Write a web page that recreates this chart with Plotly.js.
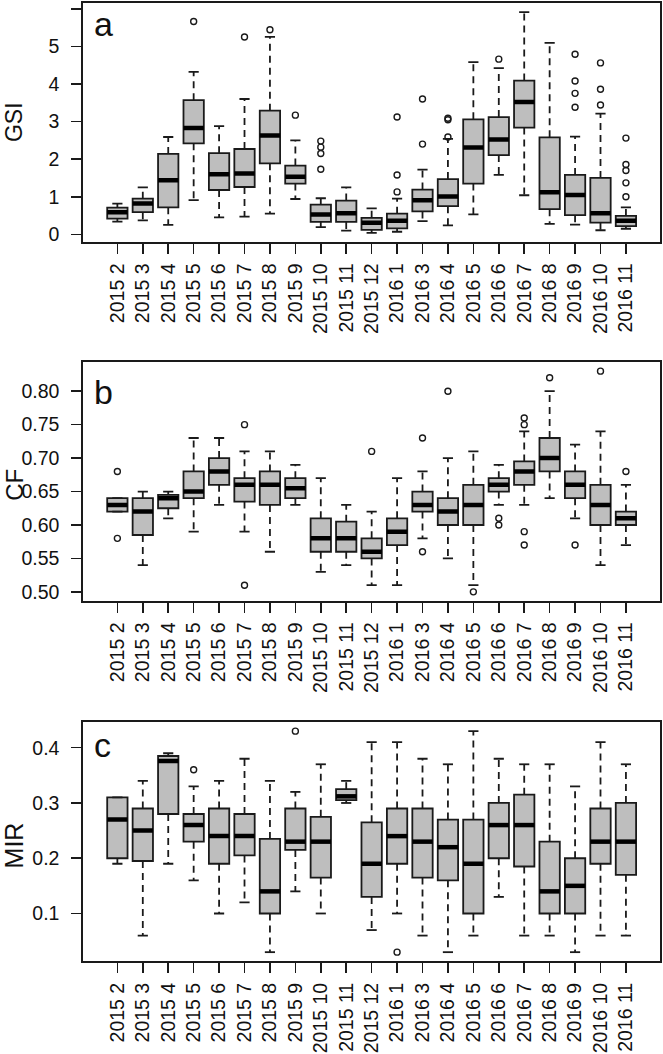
<!DOCTYPE html>
<html>
<head>
<meta charset="utf-8">
<script src="https://cdn.plot.ly/plotly-3.0.1.min.js"></script>
<style>html,body{margin:0;padding:0;background:#fff;}#chart{width:663px;height:1054px;}</style>
</head>
<body>
<div id="chart"></div>
<script>
// ---- categories (sampling months) ----
const months = ["2015 2","2015 3","2015 4","2015 5","2015 6","2015 7","2015 8","2015 9","2015 10","2015 11","2015 12",
                "2016 1","2016 3","2016 4","2016 5","2016 6","2016 7","2016 8","2016 9","2016 10","2016 11"];

// ---- panel a: GSI ----
const gsiLow = [0.34,0.37,0.25,0.91,0.45,0.47,0.55,0.94,0.19,0.10,0.04,0.07,0.35,0.24,0.53,1.58,1.04,0.28,0.26,0.11,0.15];
const gsiQ1  = [0.42,0.59,0.72,2.42,1.18,1.26,1.89,1.35,0.33,0.33,0.12,0.16,0.61,0.75,1.35,2.11,2.84,0.67,0.51,0.31,0.22];
const gsiMed = [0.59,0.82,1.44,2.83,1.60,1.62,2.63,1.53,0.53,0.56,0.31,0.36,0.91,1.01,2.31,2.52,3.52,1.12,1.05,0.56,0.36];
const gsiQ3  = [0.71,0.95,2.14,3.57,2.16,2.27,3.29,1.83,0.79,0.90,0.44,0.55,1.19,1.47,3.06,3.12,4.09,2.58,1.58,1.50,0.49];
const gsiHigh= [0.82,1.25,2.59,4.32,2.88,3.60,5.25,2.50,0.96,1.25,0.69,0.95,1.72,2.54,4.58,4.42,5.91,5.09,2.60,3.21,0.72];
const gsiOutMonth = ["2015 5","2015 7","2015 8","2015 9","2015 10","2015 10","2015 10","2015 10",
                     "2016 1","2016 1","2016 1","2016 3","2016 3","2016 4","2016 4","2016 4","2016 6",
                     "2016 9","2016 9","2016 9","2016 9","2016 10","2016 10","2016 10",
                     "2016 11","2016 11","2016 11","2016 11","2016 11"];
const gsiOutValue = [5.66,5.25,5.44,3.17,2.48,2.32,2.15,1.73,
                     3.12,1.58,1.13,3.60,2.40,3.09,3.05,2.59,4.66,
                     4.79,4.08,3.75,3.38,4.56,3.86,3.44,
                     2.56,1.86,1.70,1.37,1.00];

// ---- panel b: CF ----
const cfLow = [0.62,0.54,0.61,0.59,0.63,0.59,0.56,0.63,0.53,0.54,0.51,0.51,0.58,0.55,0.51,0.63,0.63,0.64,0.61,0.54,0.57];
const cfQ1  = [0.62,0.585,0.625,0.64,0.66,0.635,0.63,0.64,0.56,0.56,0.55,0.57,0.62,0.60,0.60,0.65,0.66,0.68,0.64,0.60,0.60];
const cfMed = [0.63,0.62,0.64,0.65,0.68,0.66,0.66,0.655,0.58,0.58,0.56,0.59,0.63,0.62,0.63,0.66,0.68,0.70,0.66,0.63,0.61];
const cfQ3  = [0.64,0.64,0.645,0.68,0.70,0.67,0.68,0.67,0.61,0.605,0.58,0.61,0.65,0.64,0.66,0.67,0.695,0.73,0.68,0.66,0.62];
const cfHigh= [0.64,0.65,0.65,0.73,0.73,0.71,0.71,0.69,0.67,0.63,0.62,0.67,0.68,0.70,0.71,0.69,0.74,0.80,0.72,0.74,0.66];
const cfOutMonth = ["2015 2","2015 2","2015 7","2015 7","2015 12","2016 3","2016 3","2016 4","2016 5",
                    "2016 6","2016 6","2016 7","2016 7","2016 7","2016 7","2016 8","2016 9","2016 10","2016 11"];
const cfOutValue = [0.68,0.58,0.75,0.51,0.71,0.73,0.56,0.80,0.50,
                    0.61,0.60,0.76,0.75,0.59,0.57,0.82,0.57,0.83,0.68];

// ---- panel c: MIR ----
const mirLow = [0.19,0.06,0.19,0.16,0.10,0.12,0.03,0.14,0.10,0.30,0.07,0.10,0.06,0.03,0.06,0.13,0.06,0.06,0.03,0.06,0.06];
const mirQ1  = [0.20,0.195,0.28,0.23,0.19,0.205,0.10,0.215,0.165,0.305,0.13,0.19,0.165,0.16,0.10,0.20,0.185,0.10,0.10,0.19,0.17];
const mirMed = [0.27,0.25,0.376,0.26,0.24,0.24,0.14,0.23,0.23,0.312,0.19,0.24,0.23,0.22,0.19,0.26,0.26,0.14,0.15,0.23,0.23];
const mirQ3  = [0.31,0.29,0.385,0.28,0.29,0.28,0.235,0.29,0.275,0.325,0.265,0.29,0.29,0.27,0.27,0.30,0.315,0.23,0.20,0.29,0.30];
const mirHigh= [0.31,0.34,0.39,0.33,0.34,0.38,0.34,0.32,0.37,0.34,0.41,0.41,0.38,0.37,0.43,0.38,0.37,0.37,0.33,0.41,0.37];
const mirOutMonth = ["2015 5","2015 9","2016 1"];
const mirOutValue = [0.36,0.43,0.03];

// ---- tick labels ----
const gsiTicks = [0,1,2,3,4,5,6];
const gsiTickText = ["0","1","2","3","4","5","6"];
const cfTicks = [0.50,0.55,0.60,0.65,0.70,0.75,0.80];
const cfTickText = ["0.50","0.55","0.60","0.65","0.70","0.75","0.80"];
const mirTicks = [0.1,0.2,0.3,0.4];
const mirTickText = ["0.1","0.2","0.3","0.4"];

// ---------------- drawing ----------------
const FONT = "Liberation Sans, Arial, Helvetica, sans-serif";
const pos = months.map((m, i) => i + 1);
const posOf = m => months.indexOf(m) + 1;
const BOXW = 0.8, STAPLE = 0.2, HALF = 0.4;

function panelTraces(lo, q1, med, q3, hi, outM, outV, xa, ya) {
  const tr = [];
  tr.push({
    type: 'box', x: pos, q1: q1, median: med, q3: q3,
    lowerfence: q1, upperfence: q3, width: BOXW, whiskerwidth: 0,
    boxpoints: false, fillcolor: '#bebebe',
    line: {color: '#1a1a1a', width: 1.8},
    xaxis: xa, yaxis: ya, hoverinfo: 'skip', showlegend: false
  });
  // dashed whiskers
  const wx = [], wy = [];
  pos.forEach((p, i) => {
    if (hi[i] > q3[i]) { wx.push(p, p, null); wy.push(q3[i], hi[i], null); }
    if (lo[i] < q1[i]) { wx.push(p, p, null); wy.push(q1[i], lo[i], null); }
  });
  tr.push({type: 'scatter', mode: 'lines', x: wx, y: wy, connectgaps: false,
    line: {color: '#1a1a1a', width: 1.8, dash: '7px,5px'},
    xaxis: xa, yaxis: ya, hoverinfo: 'skip', showlegend: false});
  // staples
  const sx = [], sy = [];
  pos.forEach((p, i) => {
    sx.push(p - STAPLE, p + STAPLE, null); sy.push(hi[i], hi[i], null);
    sx.push(p - STAPLE, p + STAPLE, null); sy.push(lo[i], lo[i], null);
  });
  tr.push({type: 'scatter', mode: 'lines', x: sx, y: sy, connectgaps: false,
    line: {color: '#1a1a1a', width: 1.8},
    xaxis: xa, yaxis: ya, hoverinfo: 'skip', showlegend: false});
  // thick medians
  const mx = [], my = [];
  pos.forEach((p, i) => { mx.push(p - HALF, p + HALF, null); my.push(med[i], med[i], null); });
  tr.push({type: 'scatter', mode: 'lines', x: mx, y: my, connectgaps: false,
    line: {color: '#000', width: 4.5},
    xaxis: xa, yaxis: ya, hoverinfo: 'skip', showlegend: false});
  // outliers
  tr.push({type: 'scatter', mode: 'markers', x: outM.map(posOf), y: outV,
    marker: {symbol: 'circle-open', size: 6, color: '#1a1a1a', line: {width: 1.4, color: '#1a1a1a'}},
    xaxis: xa, yaxis: ya, hoverinfo: 'skip', showlegend: false});
  return tr;
}

const data = [].concat(
  panelTraces(gsiLow, gsiQ1, gsiMed, gsiQ3, gsiHigh, gsiOutMonth, gsiOutValue, 'x', 'y'),
  panelTraces(cfLow, cfQ1, cfMed, cfQ3, cfHigh, cfOutMonth, cfOutValue, 'x2', 'y2'),
  panelTraces(mirLow, mirQ1, mirMed, mirQ3, mirHigh, mirOutMonth, mirOutValue, 'x3', 'y3')
);

const W = 663, H = 1054;
const xDom = [83.3 / W, 660 / W];
function yDom(top, bottom) { return [1 - bottom / H, 1 - top / H]; }

function xAxis(anchor, dom) {
  return {
    domain: dom, anchor: anchor, range: [-0.34, 22.34],
    tickmode: 'array', tickvals: pos, ticktext: months, tickangle: -90,
    ticks: 'outside', ticklen: 10, tickwidth: 1.5, tickcolor: '#1a1a1a',
    ticklabelstandoff: 2,
    showline: true, mirror: true, linecolor: '#1a1a1a', linewidth: 2,
    showgrid: false, zeroline: false, fixedrange: true,
    tickfont: {family: FONT, size: 19.5, color: '#111'}
  };
}
function yAxis(anchor, dom, range, tv, tt) {
  return {
    domain: dom, anchor: anchor, range: range,
    tickmode: 'array', tickvals: tv, ticktext: tt,
    ticks: 'outside', ticklen: 10, tickwidth: 1.5, tickcolor: '#1a1a1a',
    ticklabelstandoff: 8,
    showline: true, mirror: true, linecolor: '#1a1a1a', linewidth: 2,
    showgrid: false, zeroline: false, fixedrange: true,
    tickfont: {family: FONT, size: 19.5, color: '#111'}
  };
}
function yTitle(text, xc, yc, size) {
  return {text: text, xref: 'paper', yref: 'paper', x: xc / W, y: 1 - yc / H,
    xanchor: 'center', yanchor: 'middle', textangle: -90, showarrow: false, borderpad: 0,
    font: {family: FONT, size: size, color: '#111'}};
}
function letter(text, yc) {
  return {text: text, xref: 'paper', yref: 'paper', x: 92 / W, y: 1 - yc / H,
    xanchor: 'left', yanchor: 'middle', showarrow: false,
    font: {family: FONT, size: 34, color: '#111'}};
}

const layout = {
  width: W, height: H, autosize: false,
  margin: {l: 0, r: 0, t: 0, b: 0},
  paper_bgcolor: '#fff', plot_bgcolor: '#fff',
  showlegend: false, boxmode: 'overlay',
  xaxis: xAxis('y', xDom),
  yaxis: yAxis('x', yDom(3.3, 241.7), [-0.195, 6.145], gsiTicks, gsiTickText),
  xaxis2: xAxis('y2', xDom),
  yaxis2: yAxis('x2', yDom(362.3, 600.7), [0.4868, 0.8432], cfTicks, cfTickText),
  xaxis3: xAxis('y3', xDom),
  yaxis3: yAxis('x3', yDom(722.3, 961), [0.014, 0.446], mirTicks, mirTickText),
  annotations: [
    yTitle('GSI', 13.4, 121.7, 23),
    yTitle('CF', 13.8, 485, 24),
    yTitle('MIR', 14.4, 845, 25),
    letter('a', 23.6),
    letter('b', 391.9),
    letter('c', 745.3)
  ]
};

Plotly.newPlot('chart', data, layout, {staticPlot: true, displayModeBar: false});
</script>
</body>
</html>
